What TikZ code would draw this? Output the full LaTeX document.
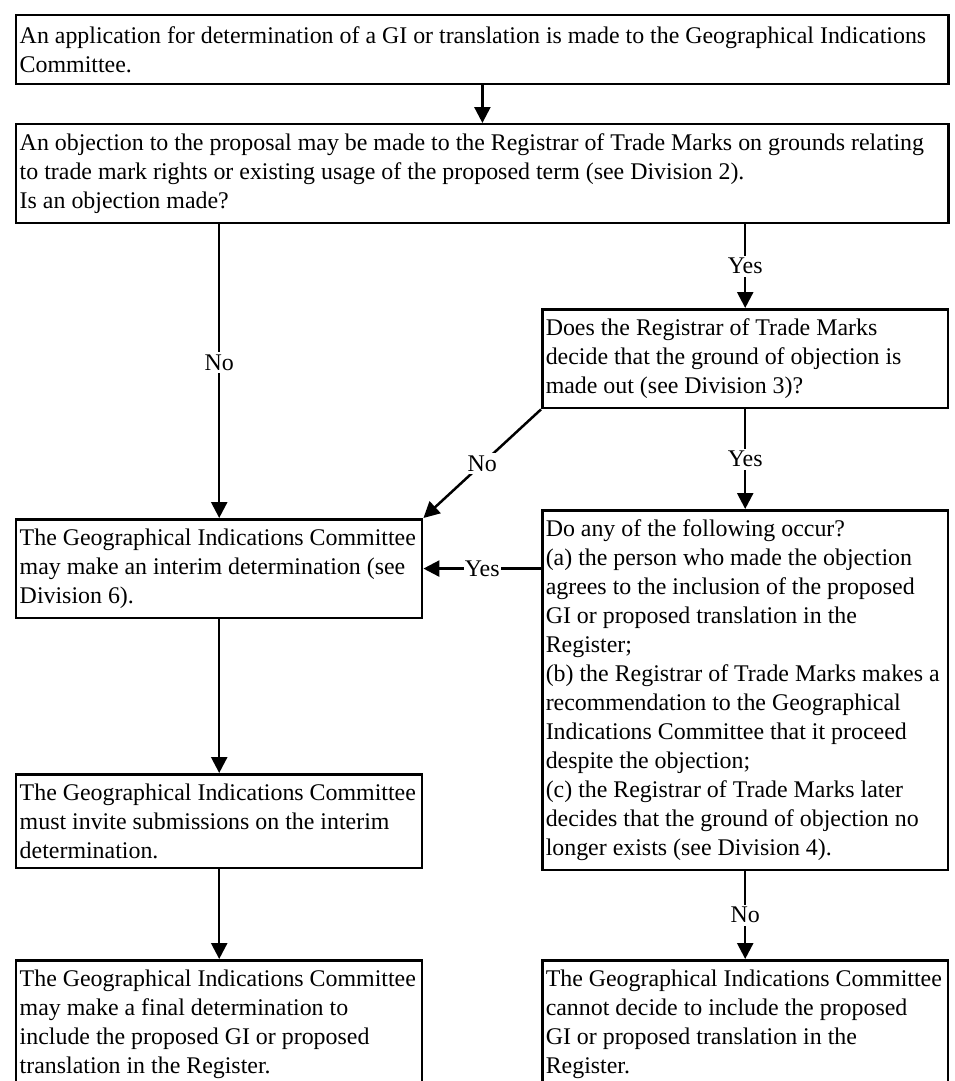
\documentclass[tikz,border=0pt]{standalone}
\usepackage{fontspec}
\setmainfont{Liberation Serif}
\usepackage{tikz}
\usetikzlibrary{arrows.meta}
\hyphenpenalty=10000
\exhyphenpenalty=10000

\begin{document}
\begin{tikzpicture}[x=0.02cm,y=-0.02cm]
 \tikzstyle{box} = [draw,line width=0.05cm,anchor=north west,align=flush left,
   inner xsep=0.07cm,inner ysep=0.19cm,font=\fontsize{13.6}{16.5}\selectfont]
 \tikzstyle{wide} = [box,text width=18.51cm]
 \tikzstyle{half} = [box,text width=7.98cm]
 \tikzstyle{l} = [draw,line width=0.05cm,-{Triangle[length=0.32cm,width=0.32cm]}]
 \tikzstyle{lbl} = [fill=white,inner sep=0.05cm,font=\fontsize{13.6}{16.5}\selectfont]
 \useasboundingbox (0,0) rectangle (954,1081);
 \node[wide,minimum height=1.38cm] (App) at (15,14) {An application for determination of a GI or translation is made to the Geographical Indications\\Committee.};
 \node[wide] (Objection) at (15,123) {An objection to the proposal may be made to the Registrar of Trade Marks on grounds relating\\to trade mark rights or existing usage of the proposed term (see Division 2).\\Is an objection made?};
 \node[half] (Decide) at (541,308) {Does the Registrar of Trade Marks\\decide that the ground of objection is\\made out (see Division 3)?};
 \node[half] (Interim) at (15,518) {The Geographical Indications Committee\\may make an interim determination (see\\Division 6).};
 \node[half] (Occur) at (541,509) {Do any of the following occur?\\(a) the person who made the objection\\agrees to the inclusion of the proposed\\GI or proposed translation in the\\Register;\\(b) the Registrar of Trade Marks makes a\\recommendation to the Geographical\\Indications Committee that it proceed\\despite the objection;\\(c) the Registrar of Trade Marks later\\decides that the ground of objection no\\longer exists (see Division 4).};
 \node[half] (Invite) at (15,773) {The Geographical Indications Committee\\must invite submissions on the interim\\determination.};
 \node[half] (Final) at (15,959) {The Geographical Indications Committee\\may make a final determination to\\include the proposed GI or proposed\\translation in the Register.};
 \node[half] (Cannot) at (541,959) {The Geographical Indications Committee\\cannot decide to include the proposed\\GI or proposed translation in the\\Register.};
 \path [l] (App) -- (Objection);
 \path [l] (Objection.south -| Interim.north) -- node[lbl,pos=0.47] {No} (Interim.north);
 \path [l] (Objection.south -| Decide.north) -- node[lbl] {Yes} (Decide.north);
 \path [l] (Decide.south west) -- node[lbl] {No} (Interim.north east);
 \path [l] (Decide) -- node[lbl] {Yes} (Occur);
 \path [l] (Occur.west |- Interim.east) -- node[lbl,inner xsep=0.02cm] {Yes} (Interim.east);
 \path [l] (Interim) -- (Invite);
 \path [l] (Invite) -- (Final);
 \path [l] (Occur) -- node[lbl] {No} (Cannot);
\end{tikzpicture}
\end{document}
